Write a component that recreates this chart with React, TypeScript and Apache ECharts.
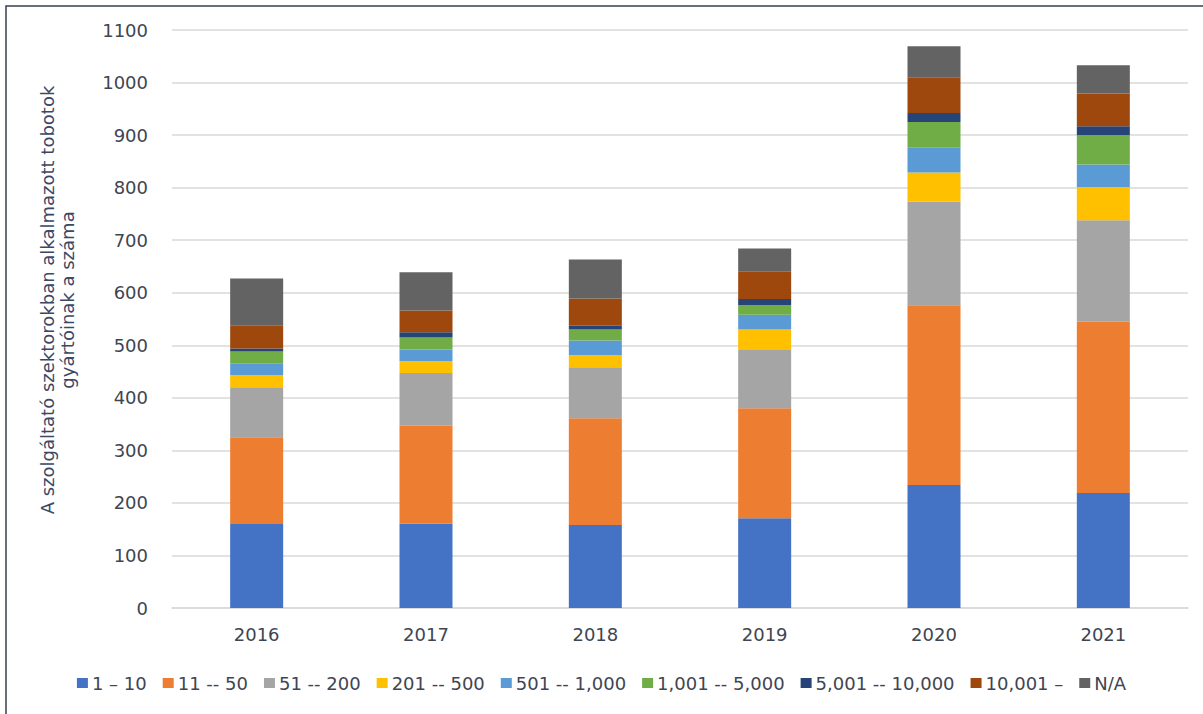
import React, { useEffect, useRef } from "react";
import * as echarts from "echarts";

const years = ["2016", "2017", "2018", "2019", "2020", "2021"];

const sizeClasses = [
  "1 – 10",
  "11 -- 50",
  "51 -- 200",
  "201 -- 500",
  "501 -- 1,000",
  "1,001 -- 5,000",
  "5,001 -- 10,000",
  "10,001 –",
  "N/A",
];

const colors = [
  "#4472C4",
  "#ED7D31",
  "#A5A5A5",
  "#FFC000",
  "#5B9BD5",
  "#70AD47",
  "#264478",
  "#9E480E",
  "#636363",
];

// Number of manufacturers per company-size class, by year
const s1to10 = [160, 161, 158, 171, 234, 219];
const s11to50 = [165, 186, 203, 209, 342, 326];
const s51to200 = [95, 100, 97, 111, 197, 193];
const s201to500 = [23, 23, 23, 39, 56, 63];
const s501to1000 = [22, 22, 28, 28, 48, 43];
const s1001to5000 = [23, 23, 21, 18, 48, 56];
const s5001to10000 = [6, 10, 7, 12, 17, 17];
const s10001plus = [44, 41, 52, 53, 68, 62];
const sNA = [89, 73, 74, 43, 59, 54];

const seriesValues = [
  s1to10,
  s11to50,
  s51to200,
  s201to500,
  s501to1000,
  s1001to5000,
  s5001to10000,
  s10001plus,
  sNA,
];

const yTicks = { min: 0, max: 1100, interval: 100 };

const yTitle = "A szolgáltató szektorokban alkalmazott tobotok\ngyártóinak a száma";

const FONT = "'DejaVu Sans', sans-serif";
const TEXT = "#404552";

export default function App() {
  const ref = useRef<HTMLDivElement>(null);

  useEffect(() => {
    document.body.style.margin = "0";
    if (!ref.current) return;
    const chart = echarts.init(ref.current, undefined, { renderer: "svg" });
    chart.setOption({
      animation: false,
      backgroundColor: "#ffffff",
      textStyle: { fontFamily: FONT },
      grid: { left: 172, right: 15, top: 30, bottom: 106 },
      legend: {
        bottom: 17,
        left: "center",
        itemWidth: 11,
        itemHeight: 10,
        itemGap: 16,
        icon: "rect",
        textStyle: { fontSize: 18, color: TEXT, fontFamily: FONT, padding: [0, 0, 0, -1] },
        data: sizeClasses,
      },
      xAxis: {
        type: "category",
        data: years,
        axisLine: { lineStyle: { color: "#d9d9d9", width: 1.5 } },
        axisTick: { show: false },
        axisLabel: { fontSize: 18, color: TEXT, margin: 17, fontFamily: FONT },
      },
      yAxis: {
        type: "value",
        min: yTicks.min,
        max: yTicks.max,
        interval: yTicks.interval,
        axisLine: { show: false },
        axisTick: { show: false },
        splitLine: { lineStyle: { color: "#d9d9d9", width: 1.5 } },
        axisLabel: {
          fontSize: 18,
          color: TEXT,
          margin: 24,
          fontFamily: FONT,
          formatter: (v: number) => String(v),
        },
      },
      graphic: [
        {
          type: "text",
          x: 57,
          y: 300,
          rotation: Math.PI / 2,
          style: {
            text: yTitle,
            fontSize: 18,
            fontFamily: FONT,
            fill: "#3a4866",
            align: "center",
            verticalAlign: "middle",
            lineHeight: 20,
          },
        },
        {
          type: "rect",
          shape: { x: 6, y: 6, width: 1210, height: 720 },
          style: { fill: "none", stroke: "#34404f", lineWidth: 1.5 },
          silent: true,
        },
      ],
      series: sizeClasses.map((name, i) => ({
        name,
        type: "bar",
        stack: "total",
        barWidth: 53,
        itemStyle: { color: colors[i] },
        data: seriesValues[i],
      })),
    });
    return () => chart.dispose();
  }, []);

  return <div ref={ref} style={{ width: 1203, height: 714 }} />;
}
